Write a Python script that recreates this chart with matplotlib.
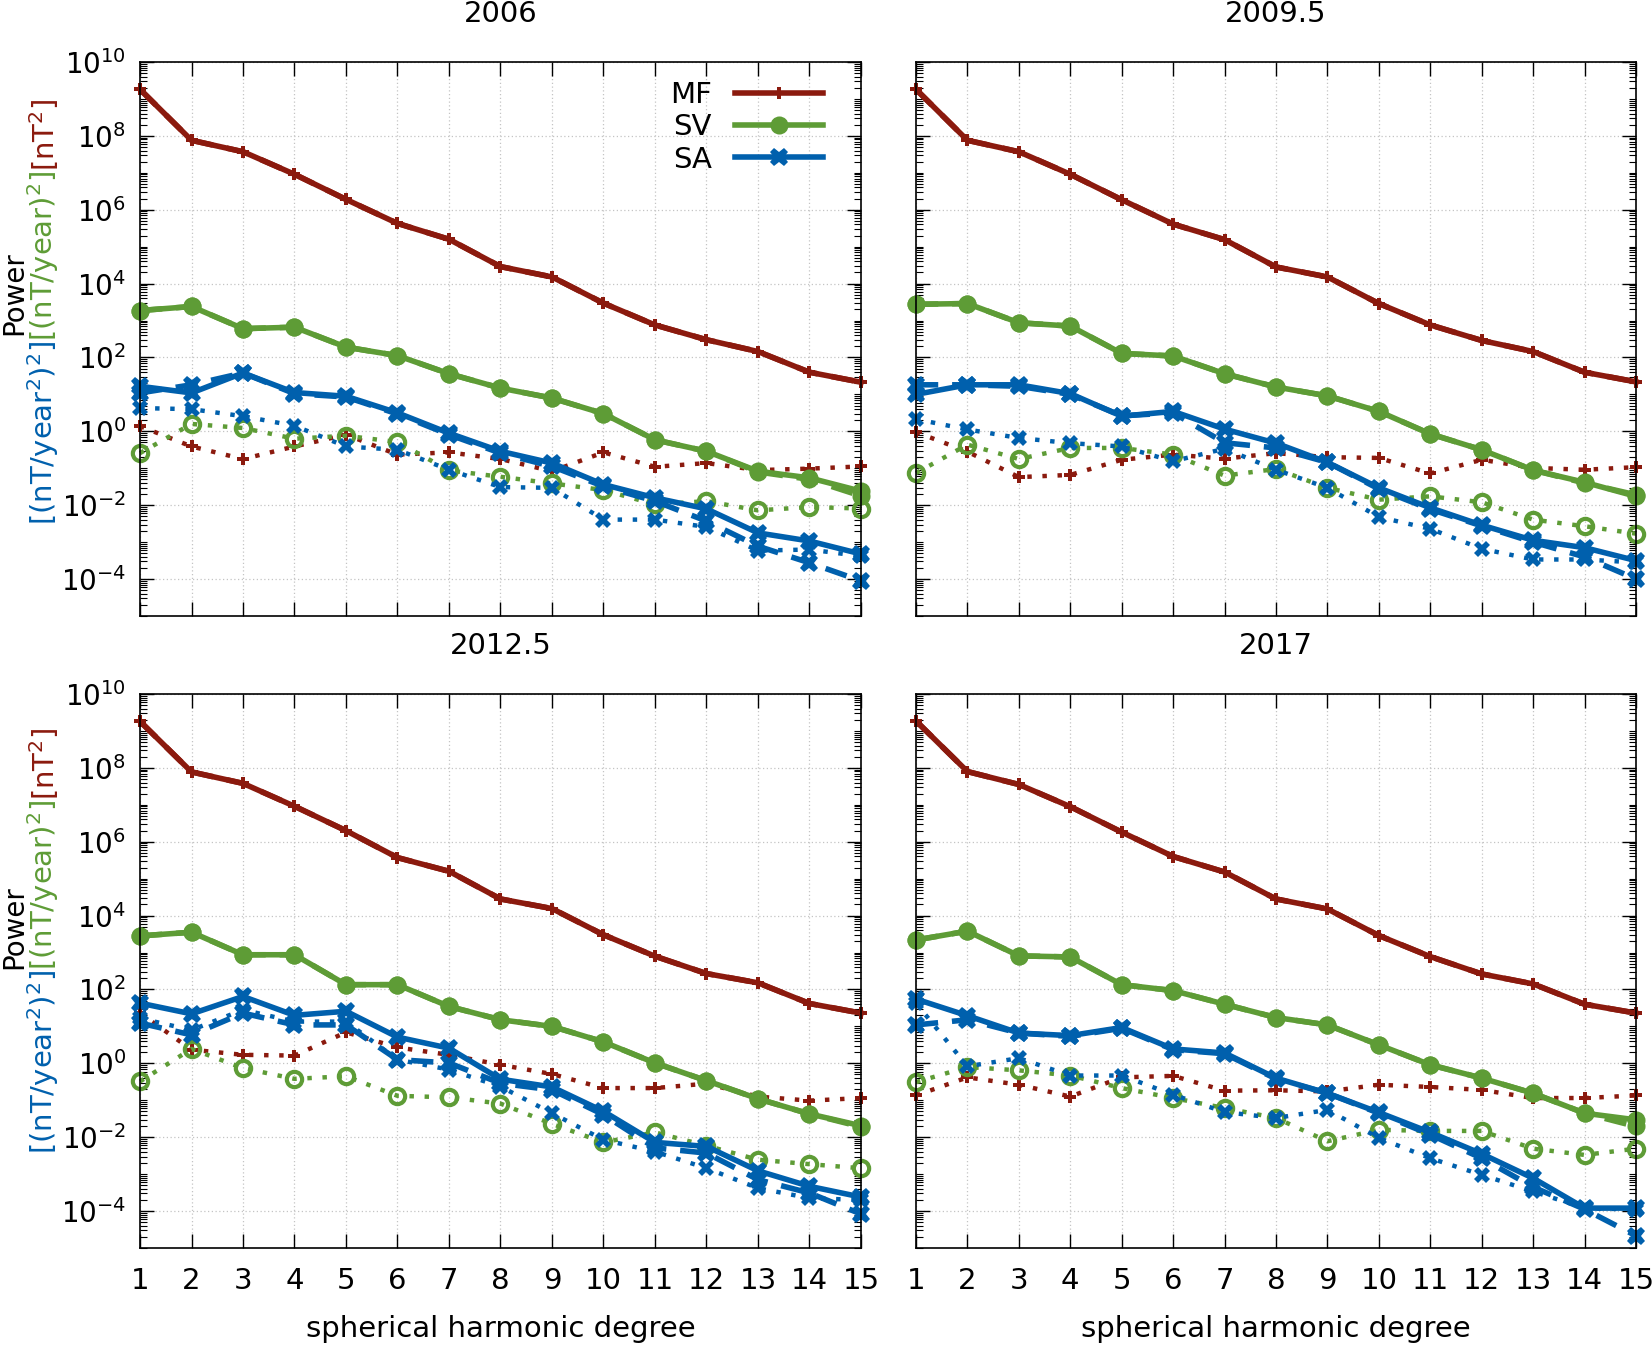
import numpy as np
import matplotlib
matplotlib.use('Agg')
import matplotlib.pyplot as plt
from matplotlib.ticker import FixedLocator, NullFormatter, FuncFormatter
from matplotlib.transforms import IdentityTransform

plt.rcParams['font.family'] = ['DejaVu Sans']
plt.rcParams['mathtext.default'] = 'regular'

degree = np.arange(1, 16)

# all values are log10(power)
# --- 2006
mf_2006 = [9.26, 7.88, 7.57, 6.96, 6.28, 5.63, 5.20, 4.46, 4.18, 3.47, 2.88, 2.48, 2.16, 1.60, 1.33]
mf_2006_dot = [0.14, -0.41, -0.75, -0.41, -0.09, -0.63, -0.57, -0.75, -1.08, -0.57, -0.96, -0.86, -1.05, -1.01, -0.95]
sv_2006 = [3.27, 3.38, 2.78, 2.82, 2.28, 2.05, 1.56, 1.17, 0.90, 0.48, -0.23, -0.54, -1.08, -1.26, -1.62]
sv_2006_dash = [3.27, 3.38, 2.78, 2.82, 2.28, 2.05, 1.56, 1.17, 0.90, 0.48, -0.23, -0.54, -1.10, -1.30, -1.75]
sv_2006_dot = [-0.59, 0.20, 0.09, -0.20, -0.12, -0.29, -1.06, -1.23, -1.41, -1.59, -1.98, -1.89, -2.14, -2.05, -2.09]
sa_2006 = [1.22, 1.04, 1.58, 1.05, 0.95, 0.50, -0.05, -0.54, -0.86, -1.44, -1.80, -2.10, -2.75, -2.97, -3.32]
sa_2006_dash = [1.04, 1.26, 1.58, 1.02, 0.93, 0.47, -0.09, -0.59, -0.95, -1.49, -1.89, -2.43, -3.11, -3.56, -4.05]
sa_2006_dot = [0.63, 0.60, 0.41, 0.15, -0.41, -0.50, -1.04, -1.51, -1.53, -2.39, -2.39, -2.59, -3.23, -3.20, -3.38]

# --- 2009.5
mf_2009 = [9.26, 7.88, 7.57, 6.96, 6.27, 5.61, 5.19, 4.45, 4.18, 3.46, 2.88, 2.46, 2.16, 1.60, 1.34]
mf_2009_dot = [-0.02, -0.55, -1.24, -1.18, -0.77, -0.63, -0.74, -0.59, -0.70, -0.72, -1.14, -0.77, -0.99, -1.04, -0.97]
sv_2009 = [3.44, 3.46, 2.94, 2.85, 2.11, 2.04, 1.56, 1.20, 0.96, 0.54, -0.07, -0.50, -1.05, -1.38, -1.76]
sv_2009_dash = [3.44, 3.46, 2.94, 2.85, 2.11, 2.04, 1.56, 1.20, 0.96, 0.54, -0.07, -0.50, -1.05, -1.40, -1.72]
sv_2009_dot = [-1.13, -0.36, -0.75, -0.45, -0.45, -0.63, -1.20, -1.02, -1.53, -1.85, -1.76, -1.92, -2.39, -2.57, -2.77]
sa_2009 = [1.00, 1.26, 1.26, 1.02, 0.41, 0.54, 0.06, -0.32, -0.84, -1.53, -2.07, -2.54, -2.95, -3.15, -3.50]
sa_2009_dash = [1.26, 1.26, 1.22, 1.00, 0.42, 0.50, -0.31, -0.45, -0.84, -1.56, -2.11, -2.56, -3.00, -3.40, -4.00]
sa_2009_dot = [0.33, 0.05, -0.18, -0.32, -0.41, -0.81, -0.47, -1.04, -1.53, -2.32, -2.64, -3.18, -3.47, -3.47, -3.55]

# --- 2012.5
mf_2012 = [9.26, 7.89, 7.58, 6.96, 6.30, 5.57, 5.20, 4.45, 4.19, 3.48, 2.90, 2.43, 2.18, 1.62, 1.36]
mf_2012_dot = [1.36, 0.37, 0.23, 0.21, 0.84, 0.43, 0.23, -0.04, -0.29, -0.67, -0.67, -0.55, -0.90, -1.01, -0.94]
sv_2012 = [3.45, 3.55, 2.94, 2.94, 2.13, 2.13, 1.54, 1.18, 1.00, 0.58, 0.01, -0.47, -0.96, -1.37, -1.69]
sv_2012_dash = [3.45, 3.55, 2.94, 2.94, 2.13, 2.13, 1.54, 1.18, 1.00, 0.58, 0.01, -0.47, -0.96, -1.37, -1.72]
sv_2012_dot = [-0.49, 0.39, -0.13, -0.42, -0.35, -0.88, -0.92, -1.09, -1.64, -2.14, -1.87, -2.23, -2.61, -2.73, -2.84]
sa_2012 = [1.63, 1.34, 1.81, 1.30, 1.41, 0.71, 0.41, -0.43, -0.64, -1.30, -2.14, -2.25, -2.91, -3.33, -3.62]
sa_2012_dash = [1.09, 0.77, 1.36, 1.04, 1.04, 0.10, 0.01, -0.54, -0.72, -1.39, -2.29, -2.43, -3.15, -3.51, -4.08]
sa_2012_dot = [1.22, 0.90, 1.45, 1.13, 1.13, 0.10, -0.17, -0.63, -1.35, -2.07, -2.39, -2.84, -3.38, -3.65, -3.70]

# --- 2017
mf_2017 = [9.27, 7.90, 7.55, 6.95, 6.26, 5.60, 5.18, 4.45, 4.18, 3.46, 2.89, 2.42, 2.15, 1.60, 1.36]
mf_2017_dot = [-0.87, -0.38, -0.58, -0.90, -0.38, -0.34, -0.74, -0.73, -0.76, -0.58, -0.64, -0.72, -0.94, -0.94, -0.87]
sv_2017 = [3.34, 3.58, 2.91, 2.88, 2.13, 1.97, 1.60, 1.24, 1.04, 0.50, -0.04, -0.40, -0.81, -1.35, -1.53]
sv_2017_dash = [3.34, 3.58, 2.91, 2.88, 2.13, 1.97, 1.60, 1.24, 1.04, 0.50, -0.04, -0.40, -0.81, -1.35, -1.71]
sv_2017_dot = [-0.51, -0.10, -0.19, -0.33, -0.67, -0.94, -1.21, -1.48, -2.11, -1.80, -1.83, -1.83, -2.31, -2.48, -2.31]
sa_2017 = [1.74, 1.29, 0.82, 0.75, 0.97, 0.39, 0.28, -0.40, -0.81, -1.33, -1.87, -2.45, -3.11, -3.92, -3.92]
sa_2017_dash = [1.04, 1.18, 0.82, 0.73, 0.95, 0.37, 0.26, -0.42, -0.81, -1.35, -1.93, -2.57, -3.35, -3.95, -4.67]
sa_2017_dot = [1.63, -0.08, 0.14, -0.33, -0.33, -0.85, -1.32, -1.48, -1.26, -2.02, -2.57, -3.02, -3.47, -3.92, -3.96]

titles = ['2006', '2009.5', '2012.5', '2017']
panels = [
    (mf_2006, mf_2006_dot, sv_2006, sv_2006_dash, sv_2006_dot, sa_2006, sa_2006_dash, sa_2006_dot),
    (mf_2009, mf_2009_dot, sv_2009, sv_2009_dash, sv_2009_dot, sa_2009, sa_2009_dash, sa_2009_dot),
    (mf_2012, mf_2012_dot, sv_2012, sv_2012_dash, sv_2012_dot, sa_2012, sa_2012_dash, sa_2012_dot),
    (mf_2017, mf_2017_dot, sv_2017, sv_2017_dash, sv_2017_dot, sa_2017, sa_2017_dash, sa_2017_dot),
]

c_mf = '#8b1a0e'
c_sv = '#5e9c36'
c_sa = '#0060ad'

W, H = 1652, 1349
fig = plt.figure(figsize=(W / 100, H / 100), dpi=100)

# axes boxes in pixels: left, top, width, height
boxes = [(140, 62, 721, 554), (916, 62, 720, 554),
         (140, 694, 721, 554), (916, 694, 720, 554)]

dash = (0, (4, 2.5))
dot = (0, (1.0, 2.4))

major_y = [10.0 ** k for k in range(-4, 11, 2)]
minor_y = [m * 10.0 ** k for k in range(-5, 10) for m in range(1, 10)]
minor_y = [v for v in minor_y if v not in major_y]

for i, (box, p) in enumerate(zip(boxes, panels)):
    x0, y0, w, h = box
    ax = fig.add_axes([x0 / W, 1 - (y0 + h) / H, w / W, h / H])
    mf, mf_dot, sv, sv_dash, sv_dot, sa, sa_dash, sa_dot = [10.0 ** np.array(a) for a in p]

    # dotted
    ax.plot(degree, mf_dot, color=c_mf, lw=3.2, ls=dot, marker='P', ms=9, mew=0, clip_on=False)
    ax.plot(degree, sv_dot, color=c_sv, lw=3.2, ls=dot, marker='o', ms=11, mfc='none', mew=3, clip_on=False)
    ax.plot(degree, sa_dot, color=c_sa, lw=3.2, ls=dot, marker='X', ms=12, mew=0, clip_on=False)
    # dashed
    ax.plot(degree, mf, color=c_mf, lw=4, ls=dash, marker='P', ms=9, mew=0, clip_on=False)
    ax.plot(degree, sv_dash, color=c_sv, lw=4, ls=dash, marker='o', ms=13, mew=0, clip_on=False)
    ax.plot(degree, sa_dash, color=c_sa, lw=4, ls=dash, marker='X', ms=13, mew=0, clip_on=False)
    # solid
    l1, = ax.plot(degree, mf, color=c_mf, lw=4, marker='P', ms=9, mew=0, clip_on=False)
    l2, = ax.plot(degree, sv, color=c_sv, lw=4, marker='o', ms=13, mew=0, clip_on=False)
    l3, = ax.plot(degree, sa, color=c_sa, lw=4, marker='X', ms=13, mew=0, clip_on=False)

    ax.set_yscale('log')
    ax.set_ylim(1e-5, 1e10)
    ax.set_xlim(1, 15)
    ax.set_xticks(degree)
    ax.yaxis.set_major_locator(FixedLocator(major_y))
    ax.yaxis.set_minor_locator(FixedLocator(minor_y))
    ax.yaxis.set_minor_formatter(NullFormatter())
    ax.yaxis.set_major_formatter(FuncFormatter(lambda v, pos: '$10^{%d}$' % round(np.log10(v))))
    ax.tick_params(which='major', direction='in', top=True, right=True, length=10, width=1,
                   labelsize=20, pad=10)
    ax.tick_params(axis='x', labelsize=21, pad=14)
    ax.tick_params(which='minor', direction='in', left=True, right=True, length=5, width=0.8)
    ax.grid(True, which='major', ls=(0, (1, 2)), color='#c4c4c4', lw=0.9)
    for s in ax.spines.values():
        s.set_linewidth(1.2)
    ax.set_title(titles[i], fontsize=21, pad=29)

    if i % 2 == 1:
        ax.tick_params(labelleft=False)
    if i < 2:
        ax.tick_params(labelbottom=False)
    else:
        ax.set_xlabel('spherical harmonic degree', fontsize=21, labelpad=14)

    if i == 0:
        ax.legend([l1, l2, l3], ['MF', 'SV', 'SA'], loc='upper right',
                  bbox_to_anchor=(0.947, 0.966), frameon=False, markerfirst=False,
                  handlelength=3.0, handletextpad=0.8, labelspacing=0.15,
                  fontsize=21, numpoints=1, borderpad=0, borderaxespad=0)

# y labels: "Power" and a three-coloured unit line
renderer = fig.canvas.get_renderer()


def stacked_label(x, yc, pieces, size):
    texts = [fig.text(x, 0, s, color=c, rotation=90, ha='right', va='bottom',
                      fontsize=size, transform=IdentityTransform()) for s, c in pieces]
    lens = [t.get_window_extent(renderer).height for t in texts]
    y = yc - sum(lens) / 2
    for t, l in zip(texts, lens):
        t.set_y(y)
        y += l


units = [('[(nT/year$^2$)$^2$]', c_sa), ('[(nT/year)$^2$]', c_sv), ('[nT$^2$]', c_mf)]
for power_y, unit_y in [(293, 312), (927, 941)]:
    fig.text(0, H - power_y, 'Power', rotation=90, ha='left', va='center',
             fontsize=20, transform=IdentityTransform())
    stacked_label(61, H - unit_y, units, 21)

fig.savefig('out.png', dpi=100)
